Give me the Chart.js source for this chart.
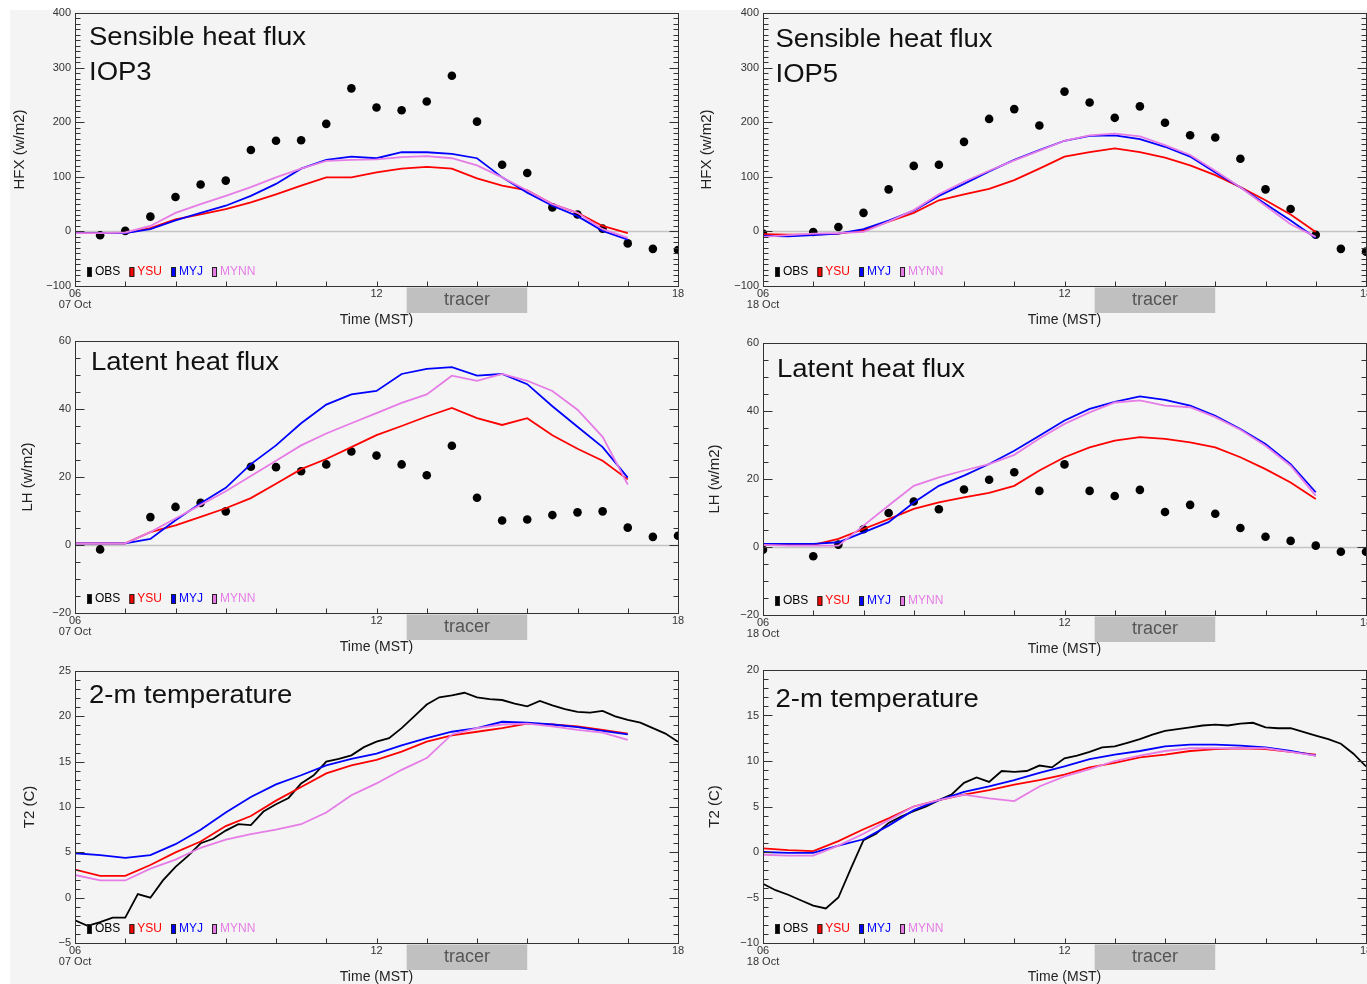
<!DOCTYPE html>
<html lang="en">
<head>
<meta charset="UTF-8">
<title>Surface fluxes and 2-m temperature, IOP3 and IOP5</title>
<script src="https://cdn.jsdelivr.net/npm/chart.js"></script>
<style>
  html, body { margin: 0; padding: 0; background: #fff; }
  body { position: relative; width: 1367px; height: 984px; overflow: hidden; }
  #bg { position: absolute; left: 10px; top: 10px; width: 1357px; height: 974px; background: #f4f4f4; }
  canvas { position: absolute; }
</style>
</head>
<body>
<div id="bg"></div>
<canvas id="hfx3" width="690" height="330" style="left:0;top:0"></canvas>
<canvas id="hfx5" width="700" height="330" style="left:690px;top:0"></canvas>
<canvas id="lh3" width="690" height="330" style="left:0;top:330px"></canvas>
<canvas id="lh5" width="700" height="330" style="left:690px;top:330px"></canvas>
<canvas id="t3" width="690" height="330" style="left:0;top:660px"></canvas>
<canvas id="t5" width="700" height="330" style="left:690px;top:660px"></canvas>

<script>
// ---- data ----
const seriesNames = ['OBS', 'YSU', 'MYJ', 'MYNN'];
const seriesColors = ['#000000', '#ff0000', '#0000ff', '#e67ce6'];
const iop3Date = '07 Oct';
const iop5Date = '18 Oct';
const tracerStart = 12.6;
const tracerEnd = 15;

// WRF output, every 30 min (MST hours)
const modelHours = [6, 6.5, 7, 7.5, 8, 8.5, 9, 9.5, 10, 10.5, 11, 11.5, 12, 12.5, 13, 13.5, 14, 14.5, 15, 15.5, 16, 16.5, 17];
// flux station, every 30 min
const obsHours = [6, 6.5, 7, 7.5, 8, 8.5, 9, 9.5, 10, 10.5, 11, 11.5, 12, 12.5, 13, 13.5, 14, 14.5, 15, 15.5, 16, 16.5, 17, 17.5, 18];
// 2-m temperature obs, every 15 min
const obsLineHours = [6, 6.25, 6.5, 6.75, 7, 7.25, 7.5, 7.75, 8, 8.25, 8.5, 8.75, 9, 9.25, 9.5, 9.75, 10, 10.25, 10.5, 10.75,
  11, 11.25, 11.5, 11.75, 12, 12.25, 12.5, 12.75, 13, 13.25, 13.5, 13.75, 14, 14.25, 14.5, 14.75, 15, 15.25, 15.5, 15.75,
  16, 16.25, 16.5, 16.75, 17, 17.25, 17.5, 17.75, 18];

// IOP3 sensible heat flux
const hfx3Obs  = [null, -7, 1, 27, 63, 86, 93, 149, 166, 167, 197, 262, 227, 222, 238, 285, 201, 122, 107, 44, 31, 5, -22, -32, -34];
const hfx3YSU  = [-3, -3, -3, 6, 22, 31, 41, 53, 68, 84, 99, 99, 108, 115, 118, 115, 97, 84, 75, 50, 34, 10, -3];
const hfx3MYJ  = [-3, -3, -3, 4, 20, 34, 47, 65, 87, 115, 131, 137, 134, 145, 145, 142, 134, 99, 71, 47, 28, 1, -15];
const hfx3MYNN = [-3, -3, -2, 10, 34, 50, 65, 81, 99, 115, 129, 131, 132, 136, 138, 134, 121, 99, 75, 50, 34, 4, -12];

// IOP5 sensible heat flux
const hfx5Obs  = [-4, null, -1, 8, 34, 77, 120, 122, 164, 206, 224, 194, 256, 236, 208, 229, 199, 176, 172, 133, 77, 41, -6, -32, -37];
const hfx5YSU  = [-5, -6, -6, -4, 2, 18, 34, 57, 68, 78, 94, 115, 137, 145, 152, 145, 135, 121, 103, 81, 57, 31, -1];
const hfx5MYJ  = [-8, -9, -7, -4, 4, 20, 38, 65, 87, 110, 131, 149, 166, 175, 176, 169, 155, 137, 108, 81, 50, 20, -12];
const hfx5MYNN = [-10, -7, -4, -3, -1, 18, 39, 68, 91, 111, 130, 148, 166, 176, 179, 174, 158, 140, 111, 81, 47, 13, -10];

// IOP3 latent heat flux
const lh3Obs  = [null, -1.3, null, 8.2, 11.2, 12.4, 9.9, 23, 22.9, 21.7, 23.7, 27.5, 26.3, 23.7, 20.5, 29.2, 13.9, 7.2, 7.5, 8.8, 9.6, 9.9, 5.1, 2.4, 2.7];
const lh3YSU  = [0.5, 0.5, 0.5, 3.8, 5.8, 8.3, 10.8, 13.8, 18, 22.3, 25.3, 28.8, 32.3, 35, 37.8, 40.3, 37.3, 35.3, 37.3, 32.3, 28.3, 24.8, 19.3];
const lh3MYJ  = [0.5, 0.5, 0.5, 1.8, 7.3, 12.3, 16.8, 23.8, 29.3, 35.8, 41.3, 44.3, 45.3, 50.3, 51.8, 52.3, 49.8, 50.3, 47.3, 40.8, 34.8, 28.8, 19.8];
const lh3MYNN = [0.5, 0.5, 0.5, 3.8, 7.8, 11.8, 15.8, 20.3, 24.8, 29.3, 32.8, 35.8, 38.8, 41.8, 44.3, 49.8, 48.3, 50.3, 48.3, 45.3, 39.8, 31.8, 17.8];

// IOP5 latent heat flux
const lh5Obs  = [-0.8, null, -2.7, 0.7, 5.2, 10, 13.4, 11.1, 16.9, 19.8, 22, 16.5, 24.3, 16.5, 15, 16.8, 10.3, 12.4, 9.8, 5.6, 3, 1.8, 0.4, -1.4, -1.4];
const lh5YSU  = [0.6, 0.6, 0.6, 2.4, 5.3, 8.2, 11.2, 13.1, 14.6, 15.9, 18, 22.5, 26.4, 29.3, 31.3, 32.3, 31.8, 30.8, 29.3, 26.4, 22.9, 19, 14.1];
const lh5MYJ  = [0.9, 0.9, 0.9, 1.4, 4.3, 7.3, 13.1, 18, 21, 24.4, 28.3, 32.7, 37.2, 40.6, 42.7, 44.3, 43.3, 41.6, 38.6, 34.7, 30.3, 24.4, 16.1];
const lh5MYNN = [0.6, 0.4, 0.4, 0.4, 6.3, 12.2, 18, 20.5, 22.5, 24.4, 27.1, 31.9, 36.2, 39.6, 42.5, 43.1, 41.6, 41.1, 38.2, 34.5, 29.8, 23.9, 15.1];

// IOP3 2-m temperature
const t3Obs  = [-2.5, -3.1, -2.7, -2.2, -2.2, 0.4, 0, 1.9, 3.4, 4.6, 6, 6.5, 7.4, 8.1, 8, 9.5, 10.3, 11, 12.6, 13.5,
  15, 15.3, 15.7, 16.6, 17.2, 17.6, 18.7, 20, 21.3, 22.1, 22.3, 22.6, 22.1, 21.9, 21.8, 21.4, 21.1, 21.7, 21.2, 20.8,
  20.5, 20.4, 20.6, 20, 19.6, 19.3, 18.7, 18.1, 17.2];
const t3YSU  = [3.1, 2.4, 2.4, 3.6, 5, 6.2, 7.9, 9, 10.7, 12.2, 13.7, 14.6, 15.2, 16.1, 17.2, 17.9, 18.3, 18.7, 19.2, 19.1, 18.9, 18.5, 18.1];
const t3MYJ  = [4.9, 4.7, 4.4, 4.7, 5.9, 7.5, 9.4, 11.1, 12.5, 13.5, 14.6, 15.3, 15.9, 16.8, 17.6, 18.3, 18.7, 19.4, 19.3, 19.1, 18.8, 18.4, 18];
const t3MYNN = [2.5, 1.9, 1.9, 3.2, 4.2, 5.5, 6.4, 7, 7.5, 8.1, 9.4, 11.3, 12.6, 14.1, 15.4, 18, 18.7, 19.1, 19.2, 18.9, 18.5, 18.2, 17.4];

// IOP5 2-m temperature
const t5Obs  = [-3.5, -4.2, -4.7, -5.3, -5.9, -6.2, -5, -1.8, 1.3, 2, 3.2, 3.9, 4.5, 5, 5.7, 6.3, 7.6, 8.2, 7.7, 8.9,
  8.8, 8.9, 9.5, 9.3, 10.3, 10.6, 11, 11.5, 11.6, 12, 12.4, 12.9, 13.3, 13.5, 13.7, 13.9, 14, 13.9, 14.1, 14.2,
  13.7, 13.6, 13.6, 13.2, 12.8, 12.4, 11.9, 10.8, 9.4];
const t5YSU  = [0.4, 0.2, 0.1, 1.2, 2.5, 3.7, 5, 5.7, 6.3, 6.8, 7.4, 7.9, 8.5, 9.3, 9.8, 10.4, 10.7, 11.1, 11.3, 11.4, 11.3, 11, 10.7];
const t5MYJ  = [0, -0.1, -0.1, 0.7, 1.4, 2.9, 4.6, 5.7, 6.6, 7.2, 7.9, 8.7, 9.4, 10.2, 10.7, 11.1, 11.6, 11.8, 11.8, 11.7, 11.5, 11.1, 10.6];
const t5MYNN = [-0.3, -0.4, -0.4, 0.7, 2, 3.5, 5, 5.7, 6.3, 5.9, 5.6, 7.2, 8.3, 9.1, 10, 10.6, 11.1, 11.4, 11.4, 11.4, 11.4, 11, 10.6];

// ---- drawing ----
const FONT = '"Liberation Sans", Arial, sans-serif';
const pts = (xs, ys) => xs.map((x, i) => ({ x: x, y: ys[i] }));
const minus = v => (v < 0 ? '\u2212' + Math.abs(v) : String(v));

const panelDecor = {
  id: 'panelDecor',
  beforeDatasetsDraw(chart, args, o) {
    if (!o.zeroLine) return;
    const { ctx, chartArea: a, scales: { y } } = chart;
    const py = Math.round(y.getPixelForValue(0)) + 0.5;
    ctx.save();
    ctx.strokeStyle = '#c4c4c4';
    ctx.lineWidth = 1.5;
    ctx.beginPath();
    ctx.moveTo(a.left, py);
    ctx.lineTo(a.right, py);
    ctx.stroke();
    ctx.restore();
  },
  afterDraw(chart, args, o) {
    const { ctx, chartArea: a, scales: { x, y } } = chart;
    ctx.save();

    // frame with inward ticks
    const L = Math.round(a.left) + 0.5, R = Math.round(a.right) + 0.5;
    const T = Math.round(a.top) + 0.5, B = Math.round(a.bottom) + 0.5;
    ctx.strokeStyle = '#333';
    ctx.lineWidth = 1;
    ctx.strokeRect(L, T, R - L, B - T);
    ctx.beginPath();
    for (let v = y.min; v <= y.max + 1e-9; v += o.minorY) {
      const py = Math.round(y.getPixelForValue(v)) + 0.5;
      const r = v / o.majorY;
      const len = Math.abs(r - Math.round(r)) < 1e-6 ? 9 : 5;
      ctx.moveTo(L, py); ctx.lineTo(L + len, py);
      ctx.moveTo(R, py); ctx.lineTo(R - len, py);
    }
    for (let h = x.min; h <= x.max; h += 1) {
      const px = Math.round(x.getPixelForValue(h)) + 0.5;
      ctx.moveTo(px, B); ctx.lineTo(px, B - 5);
    }
    ctx.stroke();

    // tracer release window
    const x0 = x.getPixelForValue(tracerStart), x1 = x.getPixelForValue(tracerEnd);
    ctx.fillStyle = '#c0c0c0';
    ctx.fillRect(x0, a.bottom + 1.5, x1 - x0, 25.5);
    ctx.fillStyle = '#555';
    ctx.font = '18px ' + FONT;
    ctx.textAlign = 'center';
    ctx.textBaseline = 'middle';
    ctx.fillText('tracer', (x0 + x1) / 2, a.bottom + 14);

    // panel title (the original lettering is a little wide)
    ctx.fillStyle = '#111';
    ctx.font = '25px ' + FONT;
    ctx.textAlign = 'left';
    ctx.textBaseline = 'alphabetic';
    o.title.forEach((line, i) => {
      ctx.save();
      ctx.translate(a.left + o.titleDx, a.top + o.titleDy + i * 35);
      ctx.scale(1.1, 1);
      ctx.fillText(line, 0, 0);
      ctx.restore();
    });

    // legend
    ctx.font = '12px ' + FONT;
    ctx.textBaseline = 'middle';
    let lx = a.left + 12;
    const ly = a.bottom - 14;
    seriesNames.forEach((name, i) => {
      ctx.fillStyle = seriesColors[i];
      ctx.fillRect(lx, ly - 4.5, 5, 9);
      ctx.strokeStyle = '#222';
      ctx.strokeRect(lx + 0.5, ly - 4.5, 4, 9);
      ctx.fillStyle = seriesColors[i];
      ctx.fillText(name, lx + 8, ly);
      lx += 8 + ctx.measureText(name).width + 9;
    });
    ctx.restore();
  }
};

function makePanel(id, p) {
  const datasets = [];
  if (p.obsLine) {
    datasets.push({ data: pts(obsLineHours, p.obs), borderColor: seriesColors[0], borderWidth: 1.8, pointRadius: 0, order: 4 });
  } else {
    datasets.push({ data: pts(obsHours, p.obs), showLine: false, pointRadius: 4.3, pointBackgroundColor: '#000', pointBorderWidth: 0, order: 4 });
  }
  p.models.forEach((vals, i) => {
    datasets.push({ data: pts(modelHours, vals), borderColor: seriesColors[i + 1], borderWidth: 1.8, pointRadius: 0, order: 3 - i });
  });

  const c = document.getElementById(id);
  const [pl, pt, pr, pb] = p.plot;
  new Chart(c, {
    type: 'line',
    data: { datasets: datasets },
    options: {
      responsive: false,
      animation: false,
      devicePixelRatio: 1,
      layout: { padding: { left: pl - 64, top: pt, right: c.width - pr, bottom: c.height - pb - 44 } },
      plugins: {
        legend: { display: false },
        tooltip: { enabled: false },
        panelDecor: { zeroLine: p.zeroLine, minorY: p.minorY, majorY: p.step, title: p.title, titleDx: p.titleDx, titleDy: p.titleDy }
      },
      scales: {
        x: {
          type: 'linear', min: 6, max: 18,
          grid: { display: false, drawTicks: false }, border: { display: false },
          ticks: {
            stepSize: 6, maxRotation: 0, autoSkip: false, padding: 2, color: '#333',
            font: { family: FONT, size: 11, lineHeight: 1 },
            callback: v => (v === 6 ? ['06', p.date] : String(v))
          },
          title: { display: true, text: 'Time (MST)', color: '#222', font: { family: FONT, size: 14 }, padding: { top: 0, bottom: 1.6 } },
          afterFit: s => { s.height = 44; s.paddingLeft = 0; s.paddingRight = 0; }
        },
        y: {
          min: p.min, max: p.max,
          grid: { display: false, drawTicks: false }, border: { display: false },
          ticks: { stepSize: p.step, padding: 4, color: '#333', font: { family: FONT, size: 11 }, callback: v => minus(v) },
          title: { display: true, text: p.yTitle, color: '#222', font: { family: FONT, size: 15 }, padding: { top: p.yTitlePad, bottom: 0 } },
          afterFit: s => { s.width = 64; s.paddingTop = 0; s.paddingBottom = 0; }
        }
      }
    },
    plugins: [panelDecor]
  });
}

makePanel('hfx3', { plot: [75, 13, 678, 286], date: iop3Date, obs: hfx3Obs, models: [hfx3YSU, hfx3MYJ, hfx3MYNN],
  min: -100, max: 400, step: 100, minorY: 10, zeroLine: true, yTitle: 'HFX (w/m2)', yTitlePad: 0,
  title: ['Sensible heat flux', 'IOP3'], titleDx: 14, titleDy: 32 });
makePanel('hfx5', { plot: [73, 13, 676, 286], date: iop5Date, obs: hfx5Obs, models: [hfx5YSU, hfx5MYJ, hfx5MYNN],
  min: -100, max: 400, step: 100, minorY: 10, zeroLine: true, yTitle: 'HFX (w/m2)', yTitlePad: -1.6,
  title: ['Sensible heat flux', 'IOP5'], titleDx: 12.5, titleDy: 34 });
makePanel('lh3', { plot: [75, 11, 678, 283], date: iop3Date, obs: lh3Obs, models: [lh3YSU, lh3MYJ, lh3MYNN],
  min: -20, max: 60, step: 20, minorY: 5, zeroLine: true, yTitle: 'LH (w/m2)', yTitlePad: 8,
  title: ['Latent heat flux'], titleDx: 16, titleDy: 29 });
makePanel('lh5', { plot: [73, 13, 676, 285], date: iop5Date, obs: lh5Obs, models: [lh5YSU, lh5MYJ, lh5MYNN],
  min: -20, max: 60, step: 20, minorY: 5, zeroLine: true, yTitle: 'LH (w/m2)', yTitlePad: 7,
  title: ['Latent heat flux'], titleDx: 14, titleDy: 34 });
makePanel('t3', { plot: [75, 11, 678, 283], date: iop3Date, obs: t3Obs, obsLine: true, models: [t3YSU, t3MYJ, t3MYNN],
  min: -5, max: 25, step: 5, minorY: 1, zeroLine: false, yTitle: 'T2 (C)', yTitlePad: 10,
  title: ['2-m temperature'], titleDx: 14, titleDy: 32 });
makePanel('t5', { plot: [73, 10, 676, 283], date: iop5Date, obs: t5Obs, obsLine: true, models: [t5YSU, t5MYJ, t5MYNN],
  min: -10, max: 20, step: 5, minorY: 1, zeroLine: false, yTitle: 'T2 (C)', yTitlePad: 7,
  title: ['2-m temperature'], titleDx: 12.5, titleDy: 37 });
</script>
</body>
</html>
